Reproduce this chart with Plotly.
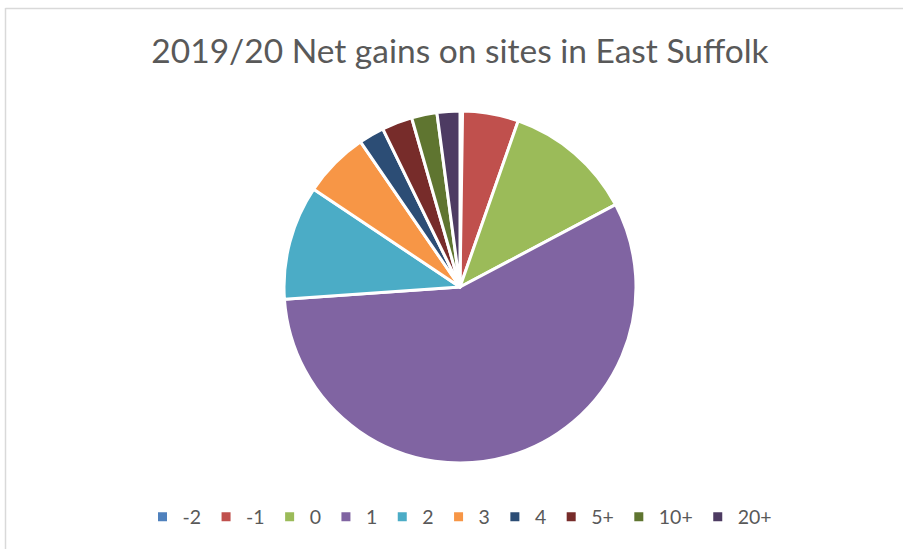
import plotly.graph_objects as go

categories = ["-2", "-1", "0", "1", "2", "3", "4", "5+", "10+", "20+"]
values = [1, 22, 51, 243, 45, 26, 10, 12, 10, 9]
colors = ["#4F81BD", "#C0504D", "#9BBB59", "#8064A2", "#4BACC6",
          "#F79646", "#2C4D75", "#772C2A", "#5F7530", "#4D3B62"]
title_text = "2019/20 Net gains on sites in East Suffolk"

W, H = 903, 549
cx, cy, r = 460, 287, 176

fig = go.Figure(go.Pie(
    labels=categories,
    values=values,
    sort=False,
    direction="clockwise",
    rotation=0,
    marker=dict(colors=colors, line=dict(color="white", width=3)),
    textinfo="none",
    hoverinfo="label+value+percent",
    domain=dict(x=[(cx - r) / W, (cx + r) / W], y=[1 - (cy + r) / H, 1 - (cy - r) / H]),
))

fig.update_layout(
    width=W, height=H,
    margin=dict(l=0, r=0, t=0, b=0),
    paper_bgcolor="white",
    plot_bgcolor="white",
    font=dict(family="Lato, Open Sans, sans-serif", color="#595959"),
    title=dict(text=title_text, x=cx / W, xanchor="center", y=1 - 51 / H, yanchor="middle",
               font=dict(size=33.5, color="#595959", family="Lato, sans-serif")),
    legend=dict(orientation="h", x=cx / W, xanchor="center", y=1 - 517 / H, yanchor="middle",
                font=dict(size=19.5, color="#595959"), traceorder="normal",
                itemwidth=30, tracegroupgap=0),
    showlegend=True,
    shapes=[
        dict(type="line", xref="paper", yref="paper", x0=5.5 / W, x1=5.5 / W, y0=0, y1=1 - 8 / H,
             line=dict(color="#D9D9D9", width=1.5)),
        dict(type="line", xref="paper", yref="paper", x0=5.5 / W, x1=1, y0=1 - 8.5 / H, y1=1 - 8.5 / H,
             line=dict(color="#D9D9D9", width=1.5)),
    ],
)

fig.write_html("out.html", config={"displayModeBar": False},
               post_script="document.body.style.margin='0';document.body.style.overflow='hidden';")
